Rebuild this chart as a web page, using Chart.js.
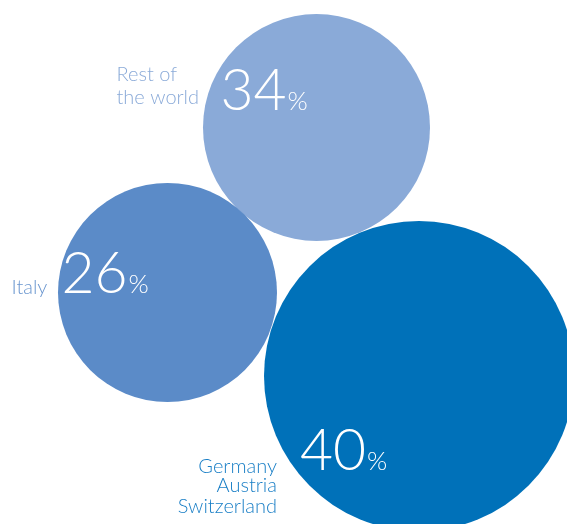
<!DOCTYPE html>
<html>
<head>
<meta charset="utf-8">
<script src="https://cdn.jsdelivr.net/npm/chart.js@4"></script>
<style>
html,body{margin:0;padding:0;background:#fff;}
#wrap{width:567px;height:524px;position:relative;}
</style>
</head>
<body>
<div id="wrap"><canvas id="c"></canvas></div>
<script>
// Data
const categories = ["Rest of the world", "Italy", "Germany Austria Switzerland"];
const labelLines = [["Rest of", "the world"], ["Italy"], ["Germany", "Austria", "Switzerland"]];
const shares = [34, 26, 40];
const bubbleX = [316.5, 167.5, 419];
const bubbleY = [127.5, 292.5, 376];
const bubbleR = [113.5, 109.5, 155];
const colors = ["#8aaad8", "#5b8bc8", "#0071b9"];
const labelColors = ["#8aaad8", "#6a96cf", "#1a7fc6"];

const FONT = "Lato, 'Open Sans', sans-serif";

// text layout (offsets from bubble center, px)
const textLayout = [
  {num:[-96,-18], lines:{x:-200, y:[-47,-24], align:"left"}},
  {num:[-106,0], lines:{x:-156, y:[1], align:"left"}},
  {num:[-119,94], lines:{x:-142, y:[97,116,137], align:"right"}}
];

const textPlugin = {
  id: "bubbleText",
  afterDatasetsDraw(chart) {
    const ctx = chart.ctx;
    const meta = chart.getDatasetMeta(0);
    meta.data.forEach((el, i) => {
      const cx = el.x, cy = el.y;
      const L = textLayout[i];
      ctx.save();
      ctx.textBaseline = "alphabetic";
      ctx.fillStyle = "#ffffff";
      ctx.textAlign = "left";
      ctx.font = "300 57px " + FONT;
      const numStr = String(shares[i]);
      const nx = cx + L.num[0], ny = cy + L.num[1];
      ctx.fillText(numStr, nx, ny);
      const w = ctx.measureText(numStr).width;
      ctx.font = "300 26px " + FONT;
      ctx.fillText("%", nx + w + 1, ny);
      ctx.fillStyle = labelColors[i];
      ctx.font = "300 20px " + FONT;
      ctx.textAlign = L.lines.align;
      labelLines[i].forEach((t, j) => {
        ctx.fillText(t, cx + L.lines.x, cy + L.lines.y[j]);
      });
      ctx.restore();
    });
  }
};

new Chart(document.getElementById("c"), {
  type: "bubble",
  data: {
    labels: categories,
    datasets: [{
      data: categories.map((c, i) => ({x: bubbleX[i], y: bubbleY[i], r: bubbleR[i]})),
      backgroundColor: colors,
      borderWidth: 0,
      hoverRadius: 0,
      clip: false
    }]
  },
  options: {
    responsive: true,
    maintainAspectRatio: false,
    animation: false,
    layout: {padding: 0, autoPadding: false},
    plugins: {legend: {display: false}, tooltip: {enabled: false}},
    scales: {
      x: {type: "linear", min: 0, max: 567, display: false},
      y: {type: "linear", min: 0, max: 524, reverse: true, display: false}
    }
  },
  plugins: [textPlugin]
});
</script>
</body>
</html>
